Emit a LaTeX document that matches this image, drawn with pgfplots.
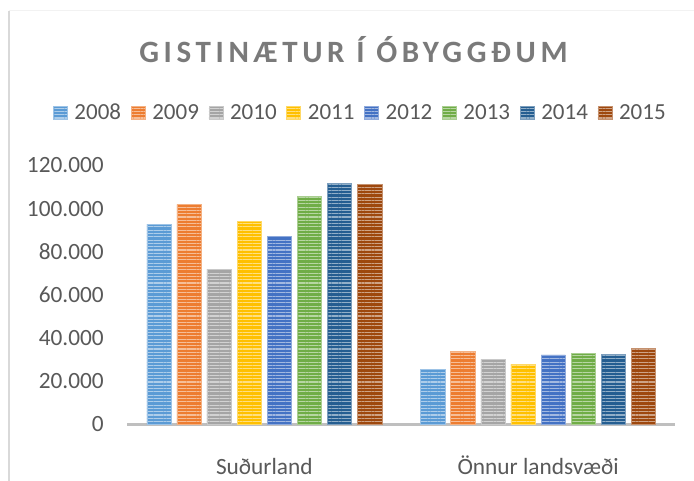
\documentclass[border=0pt]{standalone}
\usepackage{pgfplots}
\pgfplotsset{compat=1.18}
\usepackage{fontspec}
\setmainfont{Carlito}
\newfontfamily\titlefont[LetterSpace=15]{Carlito}
\usetikzlibrary{patterns.meta}
\definecolor{c1}{HTML}{5B9BD5}
\definecolor{c2}{HTML}{ED7D31}
\definecolor{c3}{HTML}{A5A5A5}
\definecolor{c4}{HTML}{FFC000}
\definecolor{c5}{HTML}{4472C4}
\definecolor{c6}{HTML}{70AD47}
\definecolor{c7}{HTML}{255E91}
\definecolor{c8}{HTML}{9E480E}
\definecolor{tc}{HTML}{595959}
\definecolor{titlec}{HTML}{7A7A7A}
\definecolor{axc}{HTML}{BFBFBF}
\definecolor{framec}{HTML}{D9D9D9}
\definecolor{framet}{HTML}{F2F2F2}
\pgfplotsset{mybar/.style={fill=#1, draw=#1!60!white, line width=0.5pt,
  postaction={pattern={Lines[angle=0,distance=3.3pt,line width=1.1pt]}, pattern color=#1!50!white}}}
\newcommand{\legtxt}[1]{\hspace*{7pt}\makebox[56.3pt][l]{#1}}
\begin{document}
\begin{tikzpicture}
\useasboundingbox (0,0) rectangle (694pt,481pt);
\fill[white] (0,0) rectangle (694pt,481pt);
\draw[color=framec, line width=2pt] (8.5pt,0pt) -- (8.5pt,470pt);
\draw[color=framet, line width=1pt] (8.5pt,470pt) -- (694pt,470pt);
\node[anchor=base, font=\titlefont\bfseries\fontsize{31}{36}\selectfont, text=titlec, inner sep=0pt] at (353.5pt,418pt) {GISTINÆTUR Í ÓBYGGÐUM};
\begin{axis}[
  at={(127.4pt,56.5pt)}, anchor=south west, scale only axis,
  width=547.6pt, height=259pt,
  xmin=-0.5, xmax=1.5, ymin=0, ymax=120000,
  scaled y ticks=false,
  ybar=5.8pt, bar width=24.3pt,
  axis x line=bottom, axis y line=left,
  x axis line style={-, draw=axc, line width=2.5pt},
  y axis line style={draw=none},
  major tick length=0pt,
  xtick={0,1}, xticklabels={Suðurland, Önnur landsvæði},
  ytick={0,20000,40000,60000,80000,100000,120000},
  yticklabels={0,20.000,40.000,60.000,80.000,100.000,120.000},
  tick label style={font=\fontsize{23.3}{28}\selectfont, text=tc},
  yticklabel style={anchor=east, inner sep=0pt, xshift=-23.5pt},
  xticklabel style={anchor=base, inner sep=0pt, yshift=-50.5pt},
  legend image code/.code={\draw[#1] (0pt,-6.5pt) rectangle (14pt,6.5pt);},
  legend columns=8,
  legend style={at={(-0.1359,1.2046)}, anchor=west, draw=none, fill=none, inner sep=0pt, outer sep=0pt, column sep=0pt, nodes={inner sep=0pt, outer sep=0pt}, font=\fontsize{23}{28}\selectfont, text=tc},
  clip=false,
]
\addplot[mybar=c1] coordinates {(0,92800) (1,25700)};
\addlegendentry{\legtxt{2008}}
\addplot[mybar=c2] coordinates {(0,102000) (1,33900)};
\addlegendentry{\legtxt{2009}}
\addplot[mybar=c3] coordinates {(0,71900) (1,30200)};
\addlegendentry{\legtxt{2010}}
\addplot[mybar=c4] coordinates {(0,94000) (1,28000)};
\addlegendentry{\legtxt{2011}}
\addplot[mybar=c5] coordinates {(0,87300) (1,32300)};
\addlegendentry{\legtxt{2012}}
\addplot[mybar=c6] coordinates {(0,105700) (1,33000)};
\addlegendentry{\legtxt{2013}}
\addplot[mybar=c7] coordinates {(0,111800) (1,32500)};
\addlegendentry{\legtxt{2014}}
\addplot[mybar=c8] coordinates {(0,111300) (1,35300)};
\addlegendentry{\legtxt{2015}}
\end{axis}
\end{tikzpicture}
\end{document}
